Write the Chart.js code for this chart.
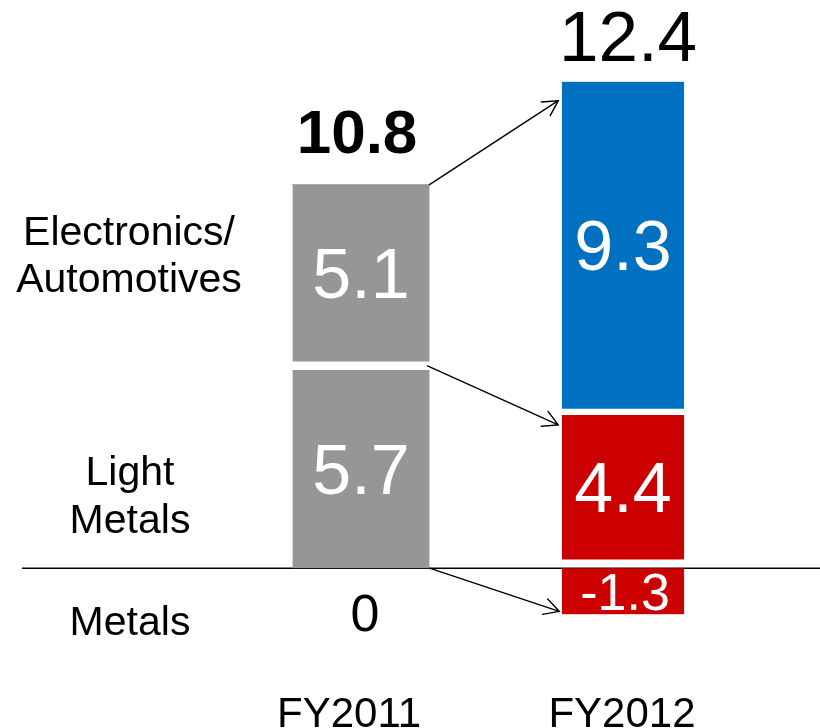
<!DOCTYPE html>
<html>
<head>
<meta charset="utf-8">
<script src="https://cdn.jsdelivr.net/npm/chart.js@4"></script>
<style>
  html, body { margin: 0; padding: 0; background: #ffffff; }
  #wrap { width: 820px; height: 728px; position: relative; }
</style>
</head>
<body>
<div id="wrap"><canvas id="chart"></canvas></div>
<script>
// Segment results by fiscal year (stacked)
const categories = ['FY2011', 'FY2012'];
const lightMetals = [5.7, 4.4];
const electronics = [5.1, 9.3];
const metals = [0, -1.3];
const totals = [10.8, 12.4];
const segmentLabels = [
  ['Electronics/', 'Automotives'],
  ['Light', 'Metals'],
  ['Metals']
];

const FONT = '"Liberation Sans", Arial, Helvetica, sans-serif';
const GRAY = '#969696';
const BLUE = '#0070C0';
const RED = '#CC0000';

// Inset (transparent border) of each segment: white gaps between stacked pieces,
// and the narrower FY2012 column.
const SIDE_INSET = 7.75;
const insets = {
  light:  [{ top: 4.5, bottom: 0 }, { top: 3.5, bottom: 9 }],
  elec:   [{ top: 0, bottom: 4.5 }, { top: 0, bottom: 3.5 }],
  metals: [{ top: 0, bottom: 0 }, { top: 0, bottom: 0 }]
};
function borderFor(key) {
  return (ctx) => {
    const i = ctx.dataIndex;
    const side = i === 1 ? SIDE_INSET : 0;
    return { top: insets[key][i].top, bottom: insets[key][i].bottom, left: side, right: side };
  };
}

function capText(ctx, text, x, yCenter, size, color, weight) {
  ctx.font = (weight || 'normal') + ' ' + size + 'px ' + FONT;
  ctx.fillStyle = color;
  ctx.textAlign = 'center';
  ctx.textBaseline = 'alphabetic';
  ctx.fillText(text, x, yCenter + size * 0.716 / 2);
}

function arrow(ctx, x1, y1, x2, y2) {
  const ang = Math.atan2(y2 - y1, x2 - x1);
  const len = 17, spread = 0.5;
  ctx.beginPath();
  ctx.moveTo(x1, y1);
  ctx.lineTo(x2, y2);
  ctx.moveTo(x2 - len * Math.cos(ang - spread), y2 - len * Math.sin(ang - spread));
  ctx.lineTo(x2, y2);
  ctx.lineTo(x2 - len * Math.cos(ang + spread), y2 - len * Math.sin(ang + spread));
  ctx.stroke();
}

// Horizontal zero line, drawn behind the bars
const zeroLine = {
  id: 'zeroLine',
  beforeDatasetsDraw(chart) {
    const ctx = chart.ctx;
    const y0 = chart.scales.y.getPixelForValue(0);
    ctx.save();
    ctx.strokeStyle = '#000000';
    ctx.lineWidth = 1.5;
    ctx.beginPath();
    ctx.moveTo(22, y0);
    ctx.lineTo(chart.width, y0);
    ctx.stroke();
    ctx.restore();
  }
};

// Value labels, totals, arrows and side captions
const annotations = {
  id: 'annotations',
  afterDatasetsDraw(chart) {
    const ctx = chart.ctx;
    const keys = ['light', 'elec', 'metals'];
    const sets = [lightMetals, electronics, metals];
    ctx.save();

    // values inside the segments
    sets.forEach((vals, d) => {
      const meta = chart.getDatasetMeta(d);
      vals.forEach((v, i) => {
        if (v === 0) return;
        const el = meta.data[i];
        const ins = insets[keys[d]][i];
        const top = Math.min(el.y, el.base) + ins.top;
        const bot = Math.max(el.y, el.base) - ins.bottom;
        const size = v < 0 ? 52 : 70;
        capText(ctx, String(v), el.x + (v < 0 ? 2 : 0), (top + bot) / 2, size, '#ffffff');
      });
    });

    const light = chart.getDatasetMeta(0).data;
    const elec = chart.getDatasetMeta(1).data;
    const met = chart.getDatasetMeta(2).data;

    // zero value for FY2011 metals
    capText(ctx, String(metals[0]), light[0].x + 4, light[0].base + 44, 52, '#000000');

    // totals above the columns
    ctx.font = 'bold 62px ' + FONT;
    ctx.fillStyle = '#000000';
    ctx.textAlign = 'center';
    ctx.textBaseline = 'alphabetic';
    ctx.fillText(totals[0].toFixed(1), elec[0].x - 4, elec[0].y - 32);
    ctx.font = 'normal 71px ' + FONT;
    ctx.fillText(totals[1].toFixed(1), elec[1].x + 5, elec[1].y - 21);

    // arrows from FY2011 to FY2012
    const right0 = light[0].x + light[0].width / 2;
    const left1 = light[1].x - light[1].width / 2 + SIDE_INSET;
    ctx.strokeStyle = '#000000';
    ctx.lineWidth = 1.4;
    ctx.lineCap = 'round';
    arrow(ctx, right0, elec[0].y, left1 - 4, elec[1].y + 19);
    arrow(ctx, right0 - 2, light[0].y, left1 - 4, light[1].y + 13);
    arrow(ctx, right0, light[0].base, left1 - 3, met[1].y - 3);

    // segment captions on the left
    capText(ctx, segmentLabels[0][0], 129, 230, 41, '#000000');
    capText(ctx, segmentLabels[0][1], 129, 277, 41, '#000000');
    capText(ctx, segmentLabels[1][0], 130, 470, 41, '#000000');
    capText(ctx, segmentLabels[1][1], 130, 518, 41, '#000000');
    capText(ctx, segmentLabels[2][0], 130, 620, 41, '#000000');

    // category labels
    capText(ctx, categories[0], light[0].x - 12, 712, 42, '#000000');
    capText(ctx, categories[1], light[1].x - 1, 712, 42, '#000000');

    ctx.restore();
  }
};

new Chart(document.getElementById('chart'), {
  type: 'bar',
  data: {
    labels: categories,
    datasets: [
      {
        label: 'Light Metals',
        data: lightMetals,
        backgroundColor: [GRAY, RED],
        borderColor: 'rgba(0,0,0,0)',
        borderSkipped: false,
        borderWidth: borderFor('light')
      },
      {
        label: 'Electronics/Automotives',
        data: electronics,
        backgroundColor: [GRAY, BLUE],
        borderColor: 'rgba(0,0,0,0)',
        borderSkipped: false,
        borderWidth: borderFor('elec')
      },
      {
        label: 'Metals',
        data: metals,
        backgroundColor: [GRAY, RED],
        borderColor: 'rgba(0,0,0,0)',
        borderSkipped: false,
        borderWidth: borderFor('metals')
      }
    ]
  },
  options: {
    responsive: true,
    maintainAspectRatio: false,
    animation: false,
    layout: { padding: { left: 230, right: 66, top: 0, bottom: 0 } },
    datasets: { bar: { barThickness: 137 } },
    scales: {
      x: { stacked: true, display: false },
      y: { stacked: true, display: false, min: -4.5, max: 16 }
    },
    plugins: {
      legend: { display: false },
      tooltip: { enabled: false }
    }
  },
  plugins: [zeroLine, annotations]
});
</script>
</body>
</html>
